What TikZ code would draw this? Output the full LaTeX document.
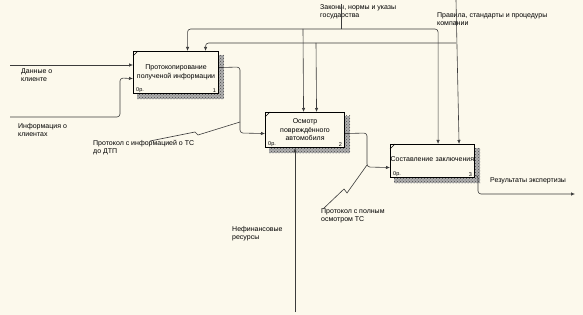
\documentclass[tikz,border=0pt]{standalone}
\usepackage{fontspec}
\setmainfont{Liberation Sans}
\usepackage{tikz}
\usetikzlibrary{arrows.meta, positioning, calc, backgrounds, patterns}
\definecolor{mybg}{RGB}{252,249,236}
\definecolor{myline}{RGB}{60,60,60}
\definecolor{myshadow}{RGB}{175,175,175}
\tikzset{
  func/.style={rectangle, draw=black, fill=mybg, line width=1.1pt, anchor=north west, inner sep=1pt, align=center, font=\fontsize{7}{8.5}\selectfont},
  lbl/.style={anchor=north west, align=left, inner sep=0pt, font=\fontsize{7}{8.5}\selectfont},
  tag/.style={inner sep=0pt, font=\fontsize{5.5}{6}\selectfont},
  arrow/.style={-{Latex[length=4pt,width=3.4pt]}, color=myline, line width=0.6pt, rounded corners=3pt},
  line/.style={color=myline, line width=0.6pt, rounded corners=3pt}
}

\begin{document}
\begin{tikzpicture}[x=1pt, y=-1pt]
  \useasboundingbox (0,0) rectangle (583,315);

  % Function boxes
  \node[func, minimum width=85pt, minimum height=42pt] (b1) at (133,51) {Протокопирование\\полученой информации};
  \node[func, minimum width=79pt, minimum height=35pt] (b2) at (265,112) {Осмотр\\повреждённого\\автомобиля};
  \node[func, minimum width=79pt, minimum height=33pt, text width=84pt, align=left, inner sep=0pt] (b3) at (390,144) {\raisebox{3pt}{Составление заключения}};

  % corner marks and numbers
  \foreach \b/\n in {b1/1, b2/2, b3/3} {
    \draw[line width=0.6pt] (\b.north west) ++(0,5) -- ++(5,-5);
    \node[tag, anchor=south west] at ([shift={(3,-1.5)}]\b.south west) {0р.};
    \node[tag, anchor=south east] at ([shift={(-3,-1.5)}]\b.south east) {\n};
  }

  % background and shadows
  \begin{scope}[on background layer]
    \fill[mybg] (0,0) rectangle (583,315);
    \foreach \b in {b1, b2, b3} {
      \fill[myshadow] ([shift={(4,4)}]\b.north west) rectangle ([shift={(5,5)}]\b.south east);
      \fill[pattern=crosshatch dots, pattern color=gray!60!black] ([shift={(4,4)}]\b.north west) rectangle ([shift={(5,5)}]\b.south east);
    }
  \end{scope}

  % Labels
  \node[lbl] (l1) at (21,68) {Данные о\\клиенте};
  \node[lbl] (l2) at (18,123) {Информация о\\клиентах};
  \node[lbl] (l3) at (93,140) {Протокол с информацией о ТС\\до ДТП};
  \node[lbl] (l4) at (320,4) {Законы, нормы и указы\\государства};
  \node[lbl] (l5) at (437,12) {Правила, стандарты и процедуры\\компании};
  \node[lbl] (l6) at (232,226) {Нефинансовые\\ресурсы};
  \node[lbl] (l7) at (321,208) {Протокол с полным\\осмотром ТС};
  \node[lbl] (l8) at (490,177) {Результаты экспертизы};

  % Inputs
  \coordinate (in1) at (10,65);
  \coordinate (in2) at (10,117);
  \draw[arrow] (in1) -- (in1 -| b1.west);
  \draw[arrow] (in2) -- (120,117) -- (120,78) -- ($(b1.west)+(0,6)$);

  % Controls
  \coordinate (c1) at (341,4);
  \coordinate (c1j) at (341,29);
  \coordinate (c2) at (456,0);
  \coordinate (c2j) at (456,43);
  \draw[line] (c1) -- (c1j);
  \draw[arrow] (c1j) -| ($(b1.north)+(11.5,0)$);
  \draw[arrow] (c1j) -| ($(b3.north)+(5.5,0)$);
  \draw[arrow] (303,29) -- ($(b2.north)+(-1.5,0)$);
  \draw[arrow] (c2) -- ($(b3.north)+(26.5,0)$);
  \draw[arrow] (c2j) -| ($(b1.north)+(29.5,0)$);
  \draw[arrow] (316,43) -- ($(b2.north)+(11.5,0)$);

  % Mechanism
  \coordinate (m1) at (295,312);
  \draw[arrow] (m1) -- (m1 |- b2.south);

  % Outputs
  \draw[arrow] ($(b1.east)+(0,-5)$) -- (240,67) -- (240,133) -- ($(b2.west)+(0,3.5)$);
  \draw[arrow] ($(b2.east)+(0,3.5)$) -- (367,133) -- (367,167) -- ($(b3.west)+(0,6.5)$);
  \coordinate (out) at (575,194);
  \draw[arrow] ($(b3.east)+(0,14.5)$) -- (478,175) -- (478,194) -- (out);

  % Squiggles
  \draw[line, rounded corners=0pt] (150,141) -- (195,132) -- (198,135) -- (240,122);
  \draw[line, rounded corners=0pt] (323,209) -- (344,189) -- (347,193) -- (367,165);
\end{tikzpicture}
\end{document}
